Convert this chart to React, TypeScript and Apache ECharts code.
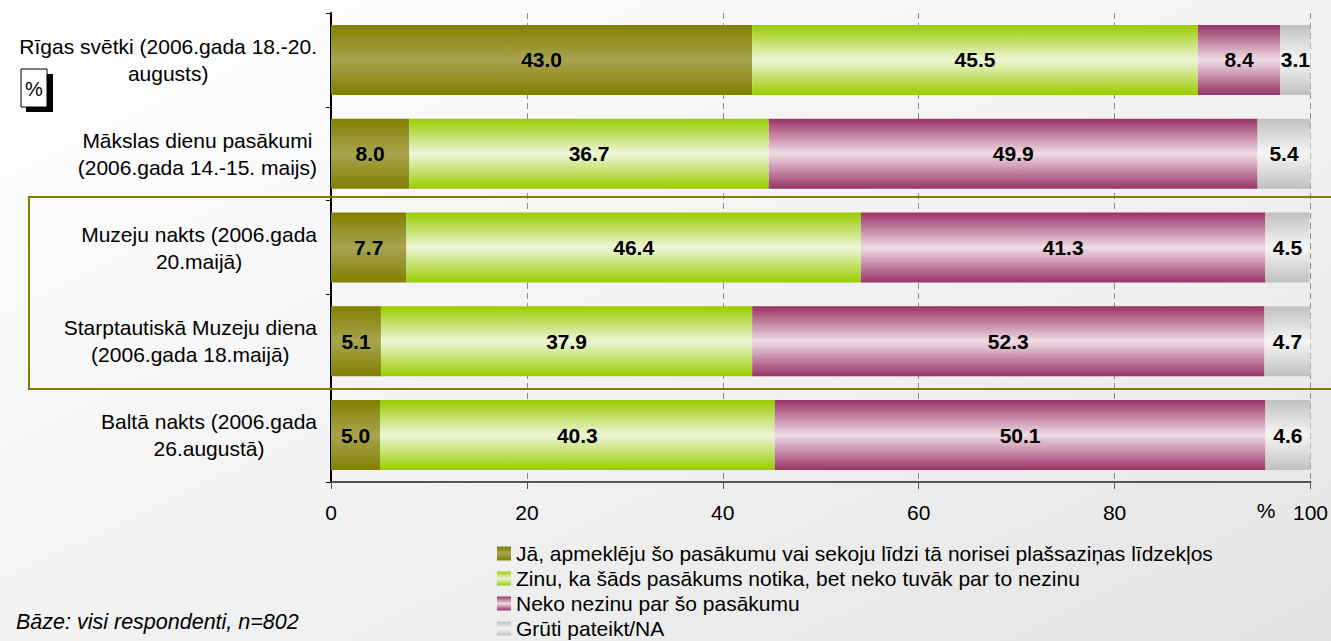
import React, { useEffect, useRef } from "react";
import * as echarts from "echarts";

const categories = [
  "Rīgas svētki (2006.gada 18.-20.\naugusts)",
  "Mākslas dienu pasākumi\n(2006.gada 14.-15. maijs)",
  "Muzeju nakts (2006.gada\n20.maijā)",
  "Starptautiskā Muzeju diena\n(2006.gada 18.maijā)",
  "Baltā nakts (2006.gada\n26.augustā)",
];
const seriesNames = [
  "Jā, apmeklēju šo pasākumu vai sekoju līdzi tā norisei plašsaziņas līdzekļos",
  "Zinu, ka šāds pasākums notika, bet neko tuvāk par to nezinu",
  "Neko nezinu par šo pasākumu",
  "Grūti pateikt/NA",
];
const attended = [43.0, 8.0, 7.7, 5.1, 5.0];
const knowOnly = [45.5, 36.7, 46.4, 37.9, 40.3];
const knowNothing = [8.4, 49.9, 41.3, 52.3, 50.1];
const hardToSay = [3.1, 5.4, 4.5, 4.7, 4.6];
const xTicks = [0, 20, 40, 60, 80, 100];
const footnote = "Bāze: visi respondenti, n=802";

const edgeColors = ["#808000", "#99cc00", "#993366", "#c0c0c0"];
const midColors = ["#a8a450", "#eef6d8", "#f0dce6", "#f6f6f6"];

const grad = (i: number) =>
  new echarts.graphic.LinearGradient(0, 0, 0, 1, [
    { offset: 0, color: edgeColors[i] },
    { offset: 0.5, color: midColors[i] },
    { offset: 1, color: edgeColors[i] },
  ]);

export default function App() {
  const ref = useRef<HTMLDivElement>(null);
  useEffect(() => {
    document.body.style.margin = "0";
    const chart = echarts.init(ref.current!, null, { renderer: "svg" });
    const font = "'Liberation Sans', Arial, sans-serif";
    const data = [attended, knowOnly, knowNothing, hardToSay];
    chart.setOption({
      animation: false,
      backgroundColor: new echarts.graphic.LinearGradient(0, 0, 1, 1, [
        { offset: 0, color: "#ffffff" },
        { offset: 0.5, color: "#f3f3f3" },
        { offset: 1, color: "#e4e4e4" },
      ]),
      textStyle: { fontFamily: font },
      grid: { left: 331, right: 19, top: 13, bottom: 159, containLabel: false },
      xAxis: {
        type: "value",
        min: 0,
        max: 100,
        interval: 20,
        axisLine: { show: true, lineStyle: { color: "#555", width: 2 } },
        axisTick: { show: true, length: 7, lineStyle: { color: "#555" } },
        axisLabel: {
          color: "#000",
          fontSize: 21,
          margin: 20,
          fontFamily: font,
          formatter: (v: number) => (xTicks.includes(v) ? String(v) : ""),
        },
        splitLine: { show: true, lineStyle: { color: "#888", type: [6, 4], width: 1 } },
      },
      yAxis: {
        type: "category",
        inverse: true,
        data: categories,
        axisLine: { show: true, lineStyle: { color: "#000", width: 2 } },
        axisTick: { show: true, length: 5, lineStyle: { color: "#000" } },
        axisLabel: {
          color: "#000",
          margin: 14,
          align: "right",
          formatter: (v: string) => `{a|${v}}`,
          rich: {
            a: { fontSize: 21, lineHeight: 27, align: "center", color: "#000", fontFamily: font },
          },
        },
      },
      legend: {
        orient: "vertical",
        left: 497,
        top: 543,
        padding: 0,
        itemWidth: 14,
        itemHeight: 14,
        itemGap: 4,
        icon: "rect",
        textStyle: { fontSize: 21, color: "#000", fontFamily: font },
        data: seriesNames,
      },
      series: seriesNames.map((name, i) => ({
        name,
        type: "bar",
        stack: "total",
        barWidth: 70,
        data: data[i],
        itemStyle: { color: grad(i) },
        label: {
          show: true,
          position: "inside",
          color: "#000",
          fontWeight: "bold",
          fontSize: 21,
          fontFamily: font,
          formatter: (p: any) => Number(p.value).toFixed(1),
        },
      })),
      graphic: [
        {
          type: "rect",
          shape: { x: 29, y: 197, width: 1310, height: 192 },
          style: { fill: "none", stroke: "#808000", lineWidth: 2 },
          z: 100,
        },
        {
          type: "rect",
          shape: { x: 26, y: 74, width: 27, height: 38 },
          style: { fill: "#000" },
        },
        {
          type: "rect",
          shape: { x: 21, y: 69, width: 26, height: 38 },
          style: { fill: "#fff", stroke: "#000", lineWidth: 1 },
        },
        {
          type: "text",
          x: 34,
          y: 89,
          style: { text: "%", fontSize: 20, fill: "#000", align: "center", verticalAlign: "middle", fontFamily: font },
        },
        {
          type: "text",
          x: 1266,
          y: 510,
          style: { text: "%", fontSize: 21, fill: "#000", align: "center", verticalAlign: "middle", fontFamily: font },
        },
        {
          type: "text",
          x: 16,
          y: 622,
          style: { text: footnote, fontSize: 21.5, fontStyle: "italic", fill: "#000", align: "left", verticalAlign: "middle", fontFamily: font },
        },
      ],
    });
    return () => chart.dispose();
  }, []);
  return <div ref={ref} style={{ position: "absolute", left: 0, top: 0, width: 1331, height: 641 }} />;
}
